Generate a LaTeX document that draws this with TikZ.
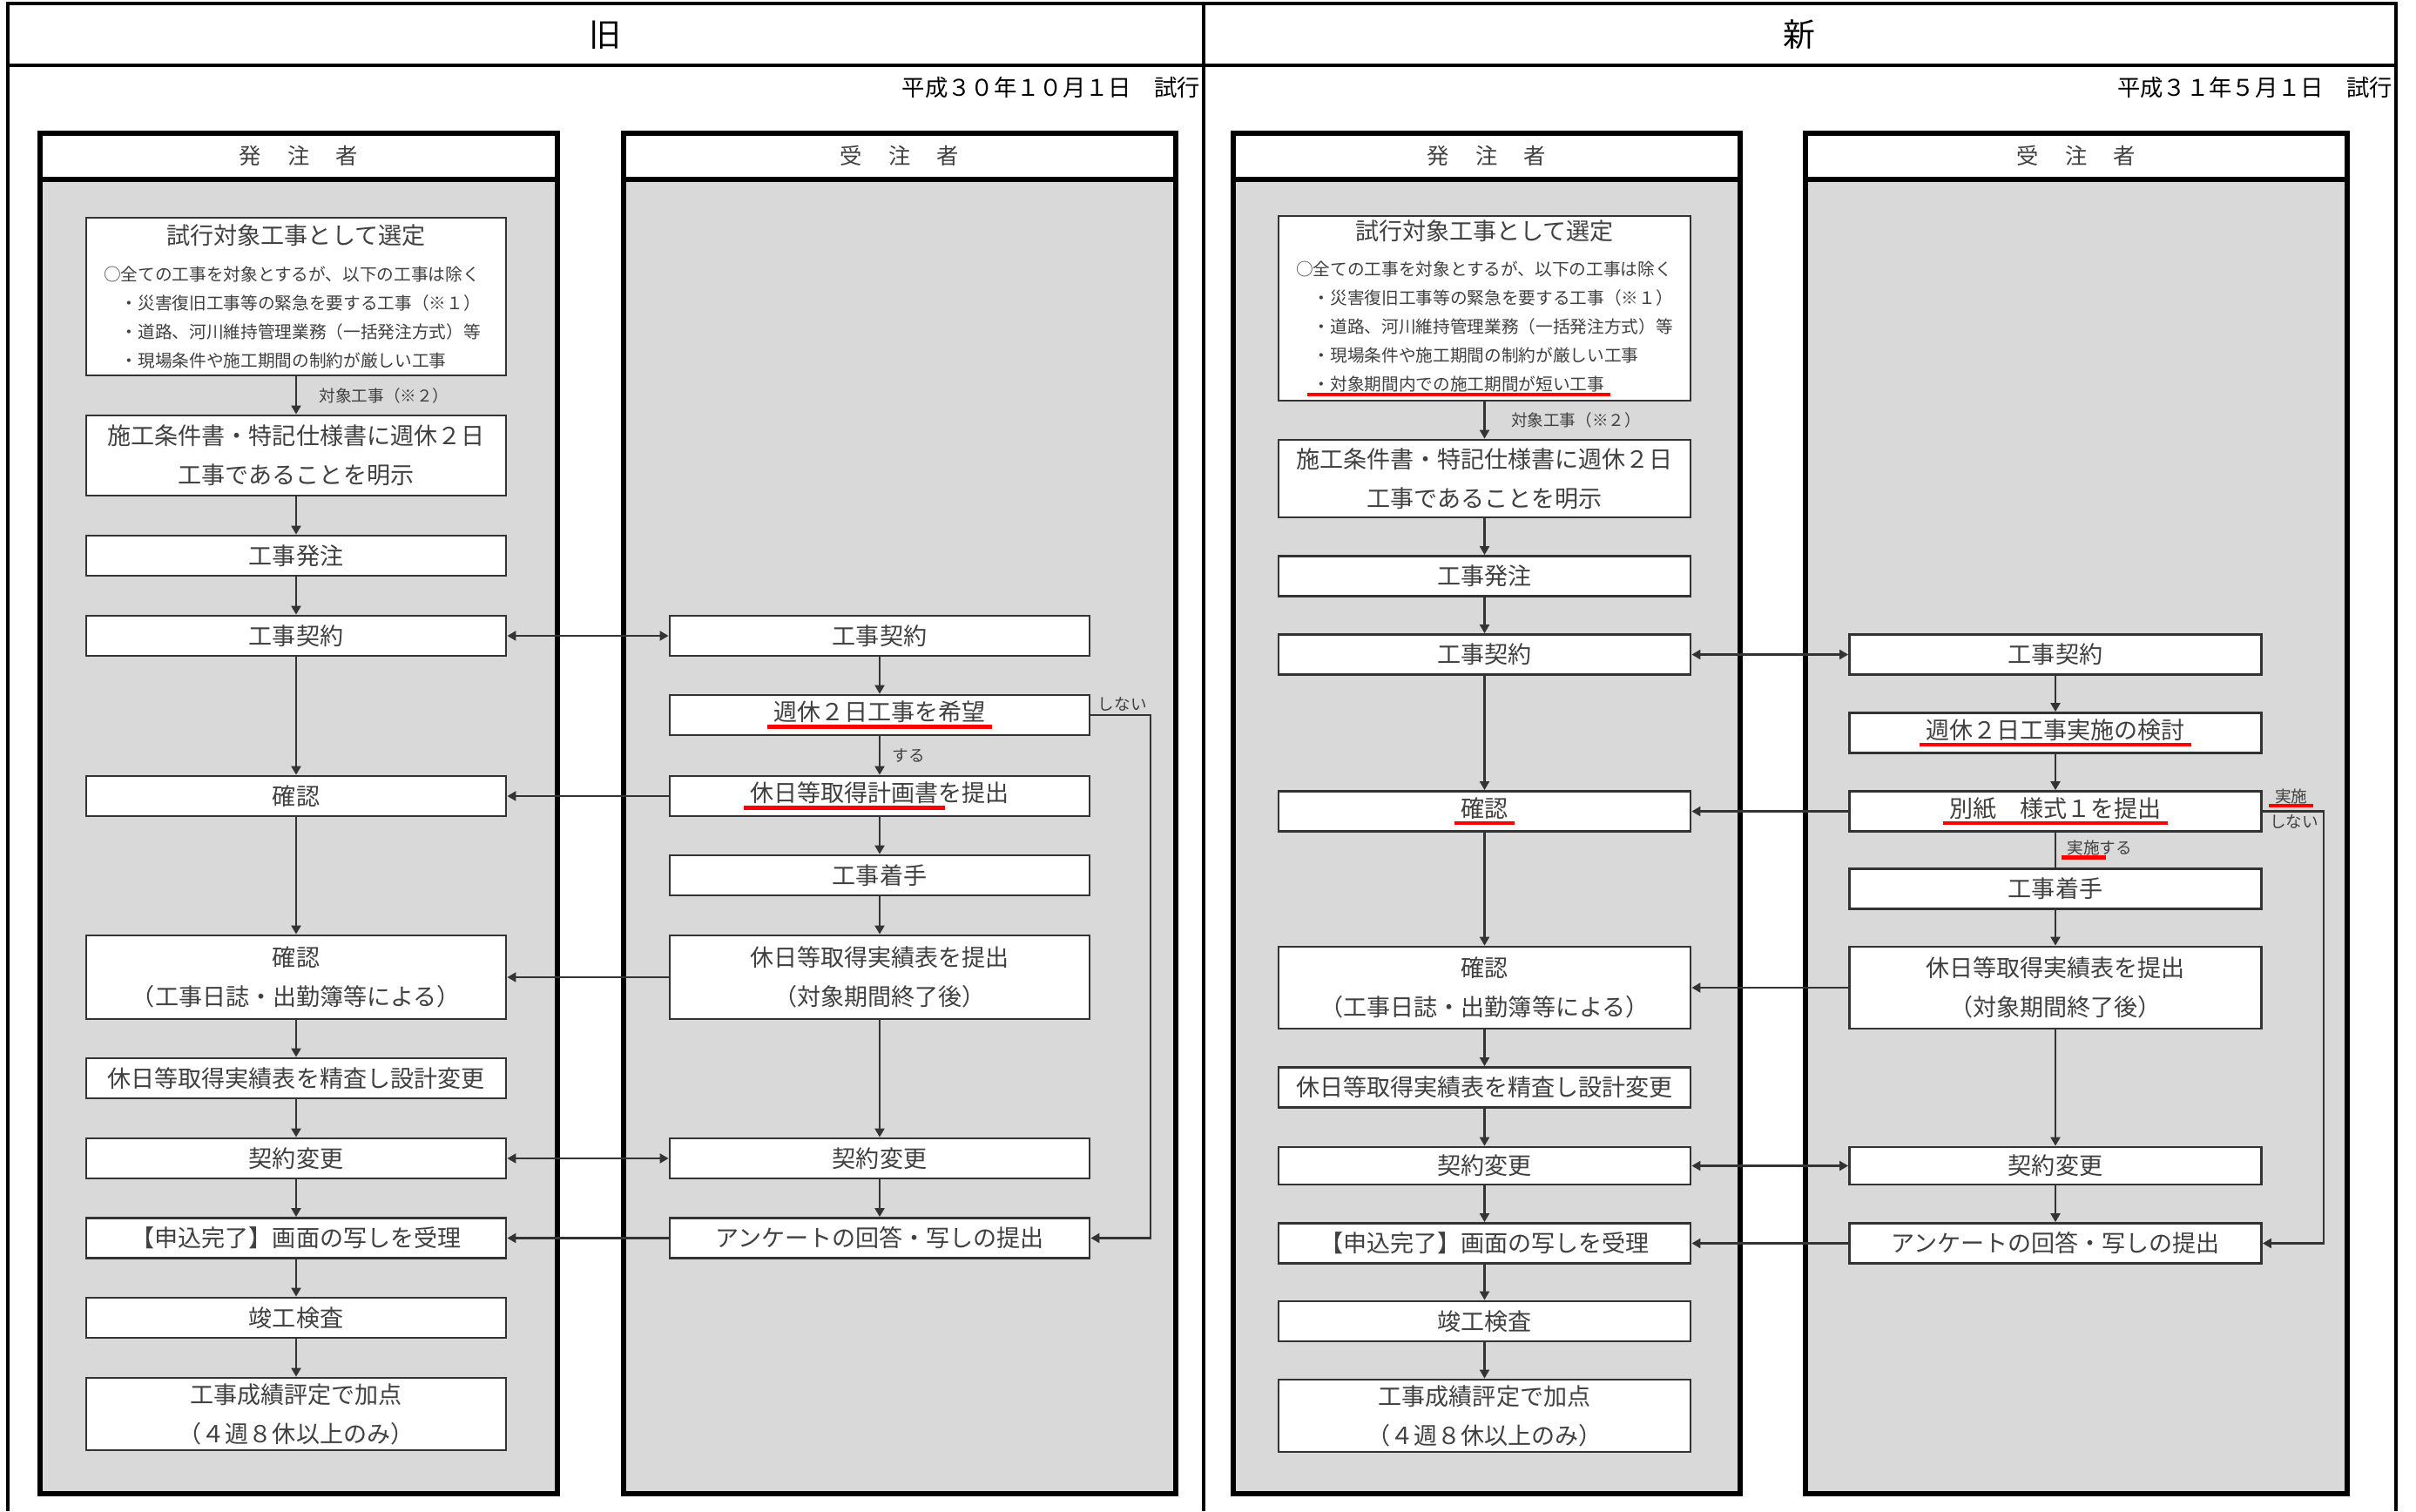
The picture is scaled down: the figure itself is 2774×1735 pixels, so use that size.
\documentclass[tikz,border=0pt]{standalone}
\usepackage{fontspec}
\setmainfont{Noto Sans CJK JP}
\usepackage{tikz}
\usepackage{xcolor}
\usetikzlibrary{arrows.meta}
\definecolor{lanegray}{HTML}{D9D9D9}
\definecolor{txtgray}{HTML}{404040}
\definecolor{linegray}{HTML}{333333}
\newcommand{\jpboxfont}{\fontsize{7.7pt}{12.8pt}\selectfont}
\newcommand{\jpnotefont}{\fontsize{5.6pt}{9.4pt}\selectfont}
\newcommand{\jptagfont}{\fontsize{5.3pt}{6pt}\selectfont}
\newcommand{\redul}[1]{\sbox0{#1}\makebox[0pt][l]{\hspace{-2pt}\color{red}\rule[-.33em]{\dimexpr\wd0+4pt\relax}{1.3pt}}\usebox0}
\tikzset{
    frame-line/.style = {draw=black, line width=1.1pt},
    lane-body/.style = {draw=black, fill=lanegray, line width=1.6pt, anchor=north west, minimum height=156.2mm},
    lane-head/.style = {draw=black, fill=white, line width=1.6pt, anchor=north west, minimum height=5.3mm, font=\fontsize{7.2pt}{8pt}\selectfont, text=txtgray},
    step-box/.style = {draw=linegray, fill=white, line width=0.8pt, minimum width=48.2mm, minimum height=4.6mm, inner sep=0pt, align=center, font=\jpboxfont, text=txtgray},
    new-box/.style = {step-box, minimum width=47.3mm},
    flow/.style = {draw=linegray, line width=0.6pt, ->},
    flow-both/.style = {flow, <->},
    plain-link/.style = {draw=linegray, line width=0.6pt},
    tag/.style = {font=\jptagfont, text=txtgray, inner sep=1pt},
    date-text/.style = {anchor=east, inner sep=0pt, font=\fontsize{7.5pt}{9pt}\selectfont},
}

\begin{document}
\begin{tikzpicture}[x=0.1mm, y=-0.1mm, >={Triangle[length=1mm, width=1.1mm]}]
\useasboundingbox (0,0) rectangle (2774,1735);
% outer frame
\draw[frame-line] (9,1735) -- (9,4) -- (2751,4) -- (2751,1735);
\draw[frame-line] (9,75) -- (2751,75);
\draw[frame-line] (1382,4) -- (1382,1735);
\node[font=\fontsize{10.5pt}{12pt}\selectfont] (old-title) at (695,40) {旧};
\node[font=\fontsize{10.5pt}{12pt}\selectfont] (new-title) at (2066,40) {新};
\node[date-text] (old-date) at (1379,101) {平成３０年１０月１日　試行};
\node[date-text] (new-date) at (2748,101) {平成３１年５月１日　試行};

% lanes
\node[lane-body, minimum width=59.4mm] (oh-lane) at (43,150) {};
\node[lane-head, minimum width=59.4mm] (oh-head) at (43,150) {発\hspace{1.2em}注\hspace{1.2em}者};
\node[lane-body, minimum width=63.4mm] (oj-lane) at (713,150) {};
\node[lane-head, minimum width=63.4mm] (oj-head) at (713,150) {受\hspace{1.2em}注\hspace{1.2em}者};
\node[lane-body, minimum width=58.2mm] (nh-lane) at (1413,150) {};
\node[lane-head, minimum width=58.2mm] (nh-head) at (1413,150) {発\hspace{1.2em}注\hspace{1.2em}者};
\node[lane-body, minimum width=62.2mm] (nj-lane) at (2070,150) {};
\node[lane-head, minimum width=62.2mm] (nj-head) at (2070,150) {受\hspace{1.2em}注\hspace{1.2em}者};

% old: orderer
\node[step-box, minimum height=18.1mm, text width=44.2mm, align=left, font=\jpnotefont] (oh-sel) at (340,340.5) {\makebox[\linewidth]{\jpboxfont 試行対象工事として選定}\\[2.6pt]
    ○全ての工事を対象とするが、以下の工事は除く\\
    \hspace*{1em}・災害復旧工事等の緊急を要する工事（※１）\\
    \hspace*{1em}・道路、河川維持管理業務（一括発注方式）等\\
    \hspace*{1em}・現場条件や施工期間の制約が厳しい工事};
\node[step-box, minimum height=9.2mm] (oh-meiji) at (340,523) {施工条件書・特記仕様書に週休２日\\工事であることを明示};
\node[step-box] (oh-hacchu) at (340,638) {工事発注};
\node[step-box] (oh-keiyaku) at (340,730) {工事契約};
\node[step-box] (oh-kakunin) at (340,914) {確認};
\node[step-box, minimum height=9.6mm] (oh-kakunin2) at (340,1122) {確認\\（工事日誌・出勤簿等による）};
\node[step-box] (oh-seisa) at (340,1238) {休日等取得実績表を精査し設計変更};
\node[step-box] (oh-henkou) at (340,1330) {契約変更};
\node[step-box] (oh-uketori) at (340,1421.5) {【申込完了】画面の写しを受理};
\node[step-box] (oh-kensa) at (340,1513) {竣工検査};
\node[step-box, minimum height=8.3mm] (oh-hyotei) at (340,1623.5) {工事成績評定で加点\\（４週８休以上のみ）};

% old: contractor
\node[step-box] (oj-keiyaku) at (1010,730) {工事契約};
\node[step-box] (oj-kibou) at (1010,821) {\redul{週休２日工事を希望}};
\node[step-box] (oj-keikaku) at (1010,914) {\redul{休日等取得計画書}を提出};
\node[step-box] (oj-chakushu) at (1010,1005) {工事着手};
\node[step-box, minimum height=9.6mm] (oj-jisseki) at (1010,1122) {休日等取得実績表を提出\\（対象期間終了後）};
\node[step-box] (oj-henkou) at (1010,1330) {契約変更};
\node[step-box] (oj-enq) at (1010,1421.5) {アンケートの回答・写しの提出};

\draw[flow] (oh-sel) -- (oh-meiji) node[tag, midway, right=2.2mm] {対象工事（※２）};
\draw[flow] (oh-meiji) -- (oh-hacchu);
\draw[flow] (oh-hacchu) -- (oh-keiyaku);
\draw[flow] (oh-keiyaku) -- (oh-kakunin);
\draw[flow] (oh-kakunin) -- (oh-kakunin2);
\draw[flow] (oh-kakunin2) -- (oh-seisa);
\draw[flow] (oh-seisa) -- (oh-henkou);
\draw[flow] (oh-henkou) -- (oh-uketori);
\draw[flow] (oh-uketori) -- (oh-kensa);
\draw[flow] (oh-kensa) -- (oh-hyotei);
\draw[flow] (oj-keiyaku) -- (oj-kibou);
\draw[flow] (oj-kibou) -- (oj-keikaku) node[tag, midway, right=1mm] {する};
\draw[flow] (oj-keikaku) -- (oj-chakushu);
\draw[flow] (oj-chakushu) -- (oj-jisseki);
\draw[flow] (oj-jisseki) -- (oj-henkou);
\draw[flow] (oj-henkou) -- (oj-enq);
\draw[flow] (oj-kibou.east) -- ++(69,0) node[tag, above left] (oj-no) {しない} |- (oj-enq.east);
\draw[flow-both] (oh-keiyaku) -- (oj-keiyaku);
\draw[flow] (oj-keikaku) -- (oh-kakunin);
\draw[flow] (oj-jisseki) -- (oh-kakunin2);
\draw[flow-both] (oh-henkou) -- (oj-henkou);
\draw[flow] (oj-enq) -- (oh-uketori);

% new: orderer
\node[new-box, minimum height=21.2mm, text width=43.3mm, align=left, font=\jpnotefont] (nh-sel) at (1704.5,354) {\makebox[\linewidth]{\jpboxfont 試行対象工事として選定}\\[2.2pt]
    ○全ての工事を対象とするが、以下の工事は除く\\
    \hspace*{1em}・災害復旧工事等の緊急を要する工事（※１）\\
    \hspace*{1em}・道路、河川維持管理業務（一括発注方式）等\\
    \hspace*{1em}・現場条件や施工期間の制約が厳しい工事\\
    \hspace*{1em}\redul{・対象期間内での施工期間が短い工事}};
\node[new-box, minimum height=8.9mm] (nh-meiji) at (1704.5,549.5) {施工条件書・特記仕様書に週休２日\\工事であることを明示};
\node[new-box] (nh-hacchu) at (1704.5,661.5) {工事発注};
\node[new-box] (nh-keiyaku) at (1704.5,751.5) {工事契約};
\node[new-box] (nh-kakunin) at (1704.5,931.5) {\redul{確認}};
\node[new-box, minimum height=9.4mm] (nh-kakunin2) at (1704.5,1134) {確認\\（工事日誌・出勤簿等による）};
\node[new-box] (nh-seisa) at (1704.5,1248.5) {休日等取得実績表を精査し設計変更};
\node[new-box, minimum height=4.3mm] (nh-henkou) at (1704.5,1338.5) {契約変更};
\node[new-box] (nh-uketori) at (1704.5,1427.5) {【申込完了】画面の写しを受理};
\node[new-box] (nh-kensa) at (1704.5,1517) {竣工検査};
\node[new-box, minimum height=8.3mm] (nh-hyotei) at (1704.5,1625.5) {工事成績評定で加点\\（４週８休以上のみ）};

% new: contractor
\node[new-box] (nj-keiyaku) at (2360,751.5) {工事契約};
\node[new-box] (nj-kentou) at (2360,841.5) {\redul{週休２日工事実施の検討}};
\node[new-box] (nj-betsu) at (2360,931.5) {\redul{別紙　様式１を提出}};
\node[new-box] (nj-chakushu) at (2360,1020.5) {工事着手};
\node[new-box, minimum height=9.4mm] (nj-jisseki) at (2360,1134) {休日等取得実績表を提出\\（対象期間終了後）};
\node[new-box, minimum height=4.3mm] (nj-henkou) at (2360,1338.5) {契約変更};
\node[new-box] (nj-enq) at (2360,1427.5) {アンケートの回答・写しの提出};

\draw[flow] (nh-sel) -- (nh-meiji) node[tag, midway, right=2.6mm] {対象工事（※２）};
\draw[flow] (nh-meiji) -- (nh-hacchu);
\draw[flow] (nh-hacchu) -- (nh-keiyaku);
\draw[flow] (nh-keiyaku) -- (nh-kakunin);
\draw[flow] (nh-kakunin) -- (nh-kakunin2);
\draw[flow] (nh-kakunin2) -- (nh-seisa);
\draw[flow] (nh-seisa) -- (nh-henkou);
\draw[flow] (nh-henkou) -- (nh-uketori);
\draw[flow] (nh-uketori) -- (nh-kensa);
\draw[flow] (nh-kensa) -- (nh-hyotei);
\draw[flow] (nj-keiyaku) -- (nj-kentou);
\draw[flow] (nj-kentou) -- (nj-betsu);
\draw[plain-link] (nj-betsu) -- (nj-chakushu) node[tag, midway, right=0.9mm] {\redul{実施}する};
\draw[flow] (nj-chakushu) -- (nj-jisseki);
\draw[flow] (nj-jisseki) -- (nj-henkou);
\draw[flow] (nj-henkou) -- (nj-enq);
\draw[flow] (nj-betsu.east) -- ++(70,0) |- (nj-enq.east);
\node[tag, above right, xshift=1mm] (nj-yes) at (nj-betsu.east) {\redul{実施}};
\node[tag, below right, xshift=0.4mm] (nj-no) at (nj-betsu.east) {しない};
\draw[flow-both] (nh-keiyaku) -- (nj-keiyaku);
\draw[flow] (nj-betsu) -- (nh-kakunin);
\draw[flow] (nj-jisseki) -- (nh-kakunin2);
\draw[flow-both] (nh-henkou) -- (nj-henkou);
\draw[flow] (nj-enq) -- (nh-uketori);
\end{tikzpicture}
\end{document}
